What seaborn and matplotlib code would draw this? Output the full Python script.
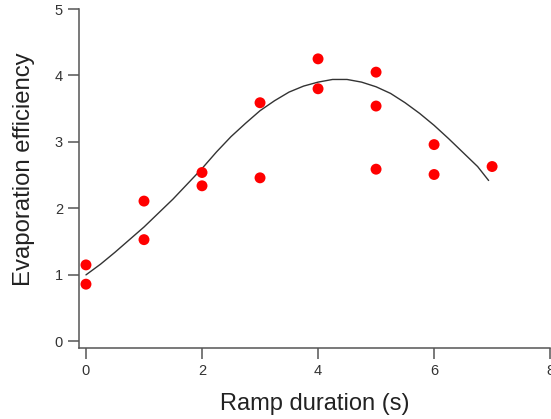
import numpy as np
import pandas as pd
import matplotlib
matplotlib.use("Agg")
import matplotlib.pyplot as plt
import seaborn as sns

# measured points
ramp_s = [0, 0, 1, 1, 2, 2, 3, 3, 4, 4, 5, 5, 5, 6, 6, 7]
efficiency = [1.15, 0.86, 2.11, 1.53, 2.54, 2.34, 3.59, 2.46,
              4.25, 3.80, 4.05, 3.54, 2.59, 2.96, 2.51, 2.63]

# fitted curve
fit_x = [0, 0.25, 0.5, 0.75, 1.0, 1.25, 1.5, 1.75, 2.0, 2.25, 2.5, 2.75,
         3.0, 3.25, 3.5, 3.75, 4.0, 4.25, 4.5, 4.75, 5.0, 5.25, 5.5,
         5.75, 6.0, 6.25, 6.5, 6.75, 6.94]
fit_y = [1.00, 1.16, 1.34, 1.53, 1.72, 1.93, 2.14, 2.37, 2.60, 2.85, 3.08,
         3.28, 3.47, 3.62, 3.75, 3.84, 3.90, 3.94, 3.94, 3.90, 3.83, 3.73,
         3.59, 3.43, 3.25, 3.05, 2.84, 2.63, 2.42]

df = pd.DataFrame({"ramp": ramp_s, "eff": efficiency})
fit = pd.DataFrame({"ramp": fit_x, "eff": fit_y})

sns.set_style("ticks")
plt.rcParams["font.family"] = ["Liberation Sans", "DejaVu Sans"]

fig = plt.figure(figsize=(5.51, 4.19), dpi=100)
ax = fig.add_axes([0.1434, 0.1695, 0.855, 0.809])

sns.lineplot(data=fit, x="ramp", y="eff", color="#333333", lw=1.0, ax=ax)
sns.scatterplot(data=df, x="ramp", y="eff", color="#ff0000", s=62,
                edgecolor="none", ax=ax, zorder=3)

ax.set_xlim(-0.12, 8)
ax.set_ylim(-0.1, 5)
ax.set_xticks([0, 2, 4, 6, 8])
ax.set_yticks([0, 1, 2, 3, 4, 5])
sns.despine(ax=ax)
for side in ["left", "bottom"]:
    ax.spines[side].set_color("#555555")
    ax.spines[side].set_linewidth(1.1)
ax.tick_params(length=8, width=1.1, color="#555555", labelsize=10.5,
               labelcolor="#333333", pad=3.6)

ax.set_xlabel("Ramp duration (s)", fontsize=17, color="#222222", labelpad=11)
ax.set_ylabel("Evaporation efficiency", fontsize=17.2, color="#222222")
ax.yaxis.set_label_coords(-0.094, 0.5265)

fig.savefig("out.png", dpi=100)
